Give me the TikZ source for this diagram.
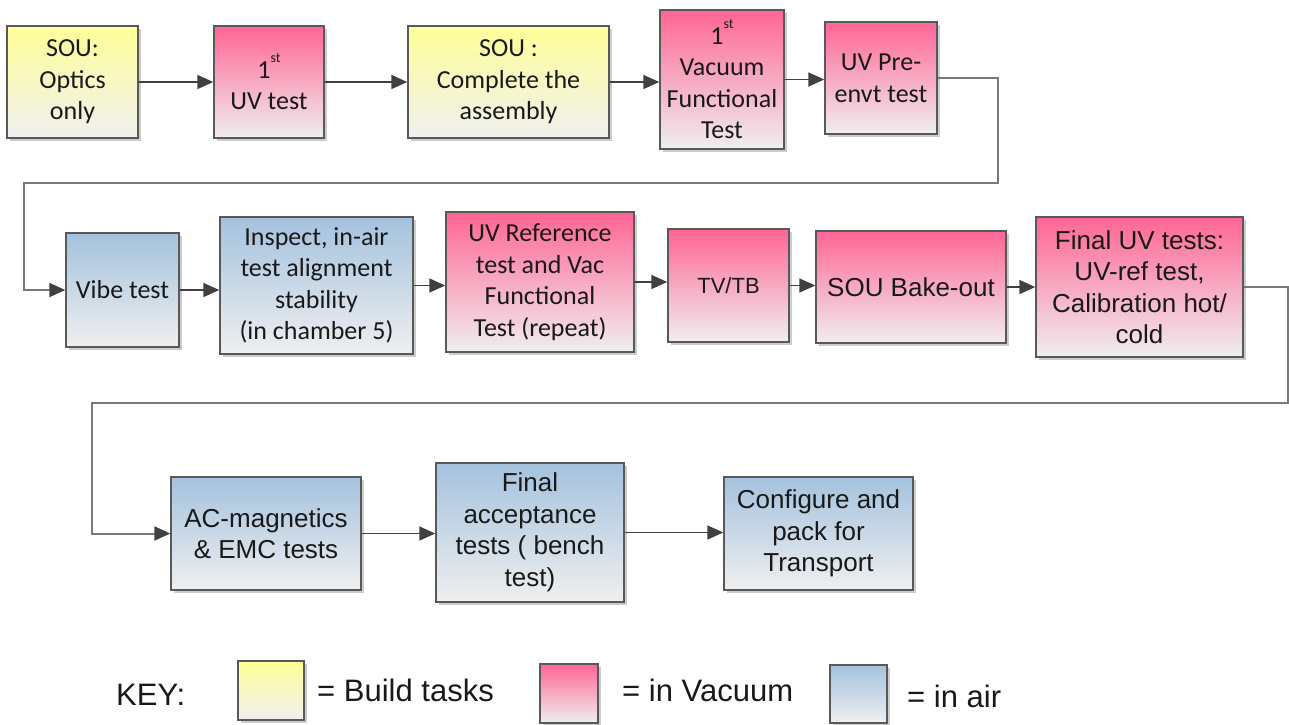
\documentclass[tikz,border=0pt]{standalone}
\usepackage{fontspec}
\setmainfont{Carlito}
\newfontfamily\arialF{Liberation Sans}
\usetikzlibrary{positioning,shadows,arrows.meta}
\definecolor{buildY}{HTML}{FFFF99}
\definecolor{vacP}{HTML}{FF6595}
\definecolor{airB}{HTML}{A4C2DE}
\definecolor{boxBot}{HTML}{EFEFEF}
\definecolor{lineG}{HTML}{404040}
\definecolor{loopG}{HTML}{7A7A7A}
\newcommand{\ordst}{\raisebox{0.6em}{\fontsize{14}{14}\selectfont st}}

\begin{document}
\begin{tikzpicture}
  [x=1pt,y=-1pt,
   taskN/.style={rectangle,draw=black!65,line width=1.4pt,align=center,inner sep=0pt,
     text=black!90,font=\fontsize{26}{31.5}\selectfont,
     drop shadow={shadow xshift=2.5pt,shadow yshift=-2.5pt,opacity=0.2,fill=black}},
   buildN/.style={taskN,top color=buildY,bottom color=boxBot},
   vacN/.style={taskN,top color=vacP,bottom color=boxBot},
   airN/.style={taskN,top color=airB,bottom color=boxBot},
   arialT/.style={font=\arialF\fontsize{26}{31.5}\selectfont},
   keyT/.style={font=\arialF\fontsize{31}{36}\selectfont,text=black!90,anchor=west,inner sep=0pt},
   sz/.style 2 args={minimum width=#1pt,minimum height=#2pt},
   arr/.style={-{Triangle[length=16pt,width=14pt]},lineG,line width=1.6pt},
   loopA/.style={loopG,line width=2pt,-{Triangle[length=16pt,width=14pt,color=lineG]}}]

  \useasboundingbox (0,0) rectangle (1289,724);

  % first row
  \node[buildN,sz={131}{112}] (opt)  at (72.5,82)  {SOU:\\Optics\\only};
  \node[vacN,sz={110}{112}]   (uv1)  at (269,82)   {1\ordst\\UV test};
  \node[buildN,sz={201}{112}] (cmp)  at (508.5,82) {SOU :\\Complete the\\assembly};
  \node[vacN,sz={124}{139}]   (vac1) at (722,79.5) {1\ordst\\Vacuum\\Functional\\Test};
  \node[vacN,sz={112}{112}]   (pre)  at (881,78)   {UV Pre-\\envt test};

  % second row
  \node[airN,sz={113}{114}] (vib)  at (122.5,290)  {Vibe test};
  \node[airN,sz={193}{137}] (ins)  at (316.5,285.5) {Inspect, in-air\\test alignment\\stability\\(in chamber 5)};
  \node[vacN,sz={188}{140}] (ref)  at (540,282)    {UV Reference\\test and Vac\\Functional\\Test (repeat)};
  \node[vacN,arialT,font=\arialF\fontsize{22}{28}\selectfont,sz={121}{113}] (tv) at (728.5,285.5) {TV/TB};
  \node[vacN,arialT,sz={190}{112}] (bake) at (911,287)     {SOU Bake-out};
  \node[vacN,arialT,sz={207}{140}] (fin)  at (1139.5,287)  {Final UV tests:\\UV-ref test,\\Calibration hot/\\cold};

  % third row
  \node[airN,arialT,sz={190}{113}] (acm)  at (266,533.5)   {AC-magnetics\\\& EMC tests};
  \node[airN,arialT,sz={188}{139}] (acc)  at (530,532.5)   {Final\\acceptance\\tests ( bench\\test)};
  \node[airN,arialT,sz={189}{113}] (pack) at (818.5,533.5) {Configure and\\pack for\\Transport};

  % key
  \node[keyT] (key) at (116,695) {KEY:};
  \node[buildN,sz={66}{59}] (kbuild) at (271,690.5) {};
  \node[keyT] (kbuildT) at (317,690) {= Build tasks};
  \node[vacN,sz={58}{59}] (kvac) at (569,693.5) {};
  \node[keyT] (kvacT) at (622,690) {= in Vacuum};
  \node[airN,sz={57}{58}] (kair) at (858.5,694) {};
  \node[keyT] (kairT) at (907,696) {= in air};

  \coordinate (turnA) at (24,183);
  \coordinate (turnB) at (92,403);

  \draw[arr] (opt.east)  -- (opt.east -| uv1.west);
  \draw[arr] (uv1.east)  -- (uv1.east -| cmp.west);
  \draw[arr] (cmp.east)  -- (cmp.east -| vac1.west);
  \draw[arr] (vac1.east) -- (vac1.east -| pre.west);
  \draw[loopA] (pre.east) -- ++(60,0) |- (turnA) |- (vib.west);

  \draw[arr] (vib.east)  -- (vib.east -| ins.west);
  \draw[arr] (ins.east)  -- (ins.east -| ref.west);
  \draw[arr] (ref.east)  -- (ref.east -| tv.west);
  \draw[arr] (tv.east)   -- (tv.east -| bake.west);
  \draw[arr] (bake.east) -- (bake.east -| fin.west);
  \draw[loopA] (fin.east) -- ++(44,0) |- (turnB) |- (acm.west);

  \draw[arr] (acm.east)  -- (acm.east -| acc.west);
  \draw[arr] (acc.east)  -- (acc.east -| pack.west);

\end{tikzpicture}
\end{document}
